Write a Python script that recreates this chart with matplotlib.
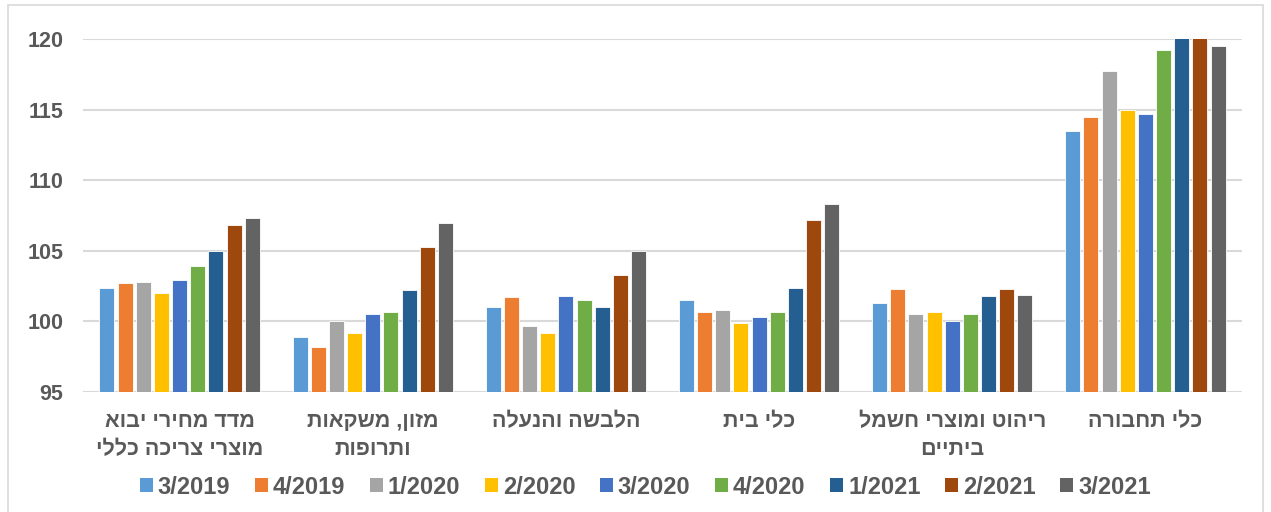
import numpy as np
import matplotlib
matplotlib.use("Agg")
import matplotlib.pyplot as plt
from matplotlib.patches import Patch, Rectangle

# נתונים
categories = ["מדד מחירי יבוא\nמוצרי צריכה כללי", "מזון, משקאות\nותרופות", "הלבשה והנעלה",
              "כלי בית", "ריהוט ומוצרי חשמל\nביתיים", "כלי תחבורה"]
periods = ["3/2019", "4/2019", "1/2020", "2/2020", "3/2020", "4/2020", "1/2021", "2/2021", "3/2021"]

s_3_2019 = [102.4, 98.9, 101.0, 101.5, 101.3, 113.5]
s_4_2019 = [102.7, 98.2, 101.7, 100.7, 102.3, 114.5]
s_1_2020 = [102.8, 100.0, 99.7, 100.8, 100.5, 117.7]
s_2_2020 = [102.0, 99.2, 99.2, 99.9, 100.7, 115.0]
s_3_2020 = [102.9, 100.5, 101.8, 100.3, 100.0, 114.7]
s_4_2020 = [103.9, 100.7, 101.5, 100.7, 100.5, 119.2]
s_1_2021 = [105.0, 102.2, 101.0, 102.4, 101.8, 120.8]
s_2_2021 = [106.8, 105.3, 103.3, 107.2, 102.3, 121.0]
s_3_2021 = [107.3, 107.0, 105.0, 108.3, 101.9, 119.5]
series = [s_3_2019, s_4_2019, s_1_2020, s_2_2020, s_3_2020, s_4_2020, s_1_2021, s_2_2021, s_3_2021]

colors = ["#5B9BD5", "#ED7D31", "#A5A5A5", "#FFC000", "#4472C4",
          "#70AD47", "#255E91", "#9E480E", "#636363"]

yticks = [95, 100, 105, 110, 115, 120]

txt_color = "#595959"
grid_color = "#D9D9D9"
font = ["Liberation Sans", "DejaVu Sans"]


# matplotlib אינו מטפל בכיוון ימין-לשמאל, לכן הופכים כל שורה
def rtl(s):
    return "\n".join(line[::-1] for line in s.split("\n"))


plt.rcParams["font.family"] = font
plt.rcParams["font.weight"] = "bold"

W, H = 1271, 512
fig = plt.figure(figsize=(W / 100, H / 100), dpi=100)
ax = fig.add_axes([83 / W, 1 - 392 / H, (1242 - 83) / W, (392 - 39) / H])

# מסגרת חיצונית
fig.patches.append(Rectangle((8 / W, -2 / H), (1263 - 8) / W, (507 + 2) / H,
                             transform=fig.transFigure, fill=False,
                             edgecolor=grid_color, linewidth=1.2))

x = np.arange(len(categories))
n = len(series)
pitch = 0.094
width = 0.078
for i, (vals, c) in enumerate(zip(series, colors)):
    offs = (i - (n - 1) / 2) * pitch
    ax.bar(x + offs, np.array(vals) - 95, width=width, bottom=95, color=c,
           edgecolor="white", linewidth=0.6, zorder=3)

ax.set_xlim(-0.5, len(categories) - 0.5)
ax.set_ylim(95, 120)
ax.set_yticks(yticks)
ax.set_yticklabels([str(t) for t in yticks], fontsize=15.5, color=txt_color, fontweight="bold")
ax.tick_params(axis="y", length=0, pad=14)
ax.set_xticks([])
ax.grid(axis="y", color=grid_color, linewidth=1.5, zorder=0)
for sp in ax.spines.values():
    sp.set_visible(False)

for xi, cat in zip(x, categories):
    ax.text(xi, -0.055, rtl(cat), transform=ax.get_xaxis_transform(),
            ha="center", va="top", fontsize=15.5, color=txt_color,
            fontweight="bold", linespacing=1.4)

handles = [Patch(facecolor=c, edgecolor="none") for c in colors]
fig.legend(handles, periods, loc="center", bbox_to_anchor=(0.5 + 10 / W, 1 - 487 / H), ncol=9,
           frameon=False, handlelength=0.55, handleheight=0.5,
           handletextpad=0.2, columnspacing=1.05, labelcolor=txt_color,
           prop={"weight": "bold", "size": 17})

fig.savefig("out.png", dpi=100)
